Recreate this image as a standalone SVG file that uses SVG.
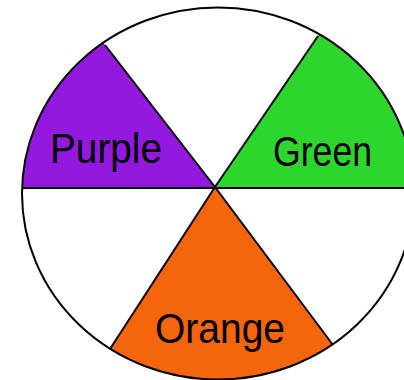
<svg xmlns="http://www.w3.org/2000/svg" width="404" height="380" viewBox="0 0 404 380">
<style>
.lbl{font-family:"Liberation Sans",Arial,sans-serif;font-size:42px;fill:#000}
.ln{stroke:#000;stroke-width:2;fill:none}
</style>
<defs>
<clipPath id="disc"><ellipse cx="218" cy="193.5" rx="196" ry="186"/></clipPath>
</defs>
<rect width="404" height="380" fill="#fff"/>
<g id="wheel">
<ellipse cx="218" cy="193.5" rx="196" ry="186" fill="#fff"/>
</g>
<g id="purple">
<polygon points="215,187 -5,-97 -5,187" fill="#9419DF" clip-path="url(#disc)"/>
<text class="lbl" x="50" y="163" textLength="112" lengthAdjust="spacingAndGlyphs">Purple</text>
</g>
<g id="green">
<polygon points="215,187 421,-115 421,187" fill="#2DD62D" clip-path="url(#disc)"/>
<text class="lbl" x="273" y="166" textLength="99" lengthAdjust="spacingAndGlyphs">Green</text>
</g>
<g id="orange">
<polygon points="215,187 5,511 451,503" fill="#F5650C" clip-path="url(#disc)"/>
<text class="lbl" x="155" y="343" textLength="130" lengthAdjust="spacingAndGlyphs">Orange</text>
</g>
<g id="connectors">
<ellipse class="ln" cx="218" cy="193.5" rx="196" ry="186" stroke-width="2.5"/>
<line class="ln" x1="22" y1="188" x2="404" y2="188" stroke-width="3"/>
<line class="ln" x1="215" y1="187" x2="105" y2="45"/>
<line class="ln" x1="215" y1="187" x2="318" y2="36"/>
<line class="ln" x1="215" y1="187" x2="110" y2="349"/>
<line class="ln" x1="215" y1="187" x2="333" y2="345"/>
</g>
</svg>
